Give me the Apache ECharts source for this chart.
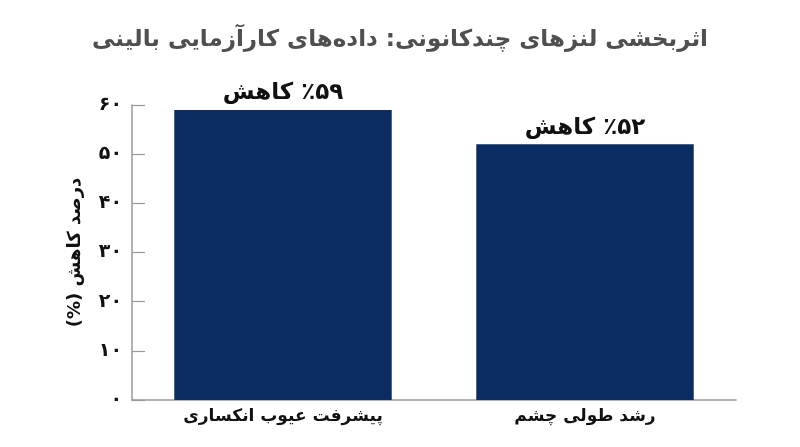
<!DOCTYPE html>
<html lang="fa">
<head>
    <meta charset="UTF-8">
    <script src="https://cdn.jsdelivr.net/npm/echarts@6/dist/echarts.min.js"></script>
    <title>اثربخشی لنزهای چندکانونی</title>
    <style>
        *{ margin: 0; padding: 0; }
        #chart{ width: 800px; height: 447px; direction: rtl; }
    </style>
</head>
<body>
    <div id="chart"></div>
<script>
    // داده‌ها
    var categories = ['پیشرفت عیوب انکساری', 'رشد طولی چشم'];
    var values = [59, 52];
    var barLabels = ['٪۵۹ کاهش', '٪۵۲ کاهش'];
    var yTickLabels = ['۰', '۱۰', '۲۰', '۳۰', '۴۰', '۵۰', '۶۰'];

    var font = 'DejaVu Sans';
    var chart = echarts.init(document.getElementById('chart'));

    var option = {
        backgroundColor: '#ffffff',
        animation: false,
        title: {
            text: 'اثربخشی لنزهای چندکانونی: داده‌های کارآزمایی بالینی',
            left: 'center',
            top: 24,
            textStyle: { fontFamily: font, fontSize: 23, fontWeight: 'bold', color: '#4f4f4f' }
        },
        grid: { left: 132, right: 64, top: 105, bottom: 47 },
        xAxis: {
            type: 'category',
            data: categories,
            axisLine: { lineStyle: { color: '#999999', width: 1.5 } },
            axisTick: { show: false },
            axisLabel: { margin: 8, fontFamily: font, fontSize: 17, fontWeight: 'bold', color: '#111111' }
        },
        yAxis: {
            type: 'value',
            min: 0,
            max: 60,
            interval: 10,
            name: 'درصد کاهش (%)',
            nameLocation: 'middle',
            nameGap: 48,
            nameTextStyle: { fontFamily: font, fontSize: 18, fontWeight: 'bold', color: '#111111' },
            axisLine: { show: true, lineStyle: { color: '#999999', width: 1.5 } },
            axisTick: { show: true, inside: true, length: 13, lineStyle: { color: '#999999', width: 1.2 } },
            splitLine: { show: false },
            axisLabel: {
                margin: 10,
                fontFamily: font, fontSize: 19, fontWeight: 'bold', color: '#111111',
                formatter: function (v) { return yTickLabels[v / 10]; }
            }
        },
        series: [{
            type: 'bar',
            data: values,
            barCategoryGap: '28%',
            itemStyle: { color: '#0a2c61' },
            label: {
                show: true,
                position: 'top',
                distance: 5,
                fontFamily: font, fontSize: 23, fontWeight: 'bold', color: '#111111',
                formatter: function (p) { return barLabels[p.dataIndex]; }
            }
        }]
    };
    chart.setOption(option);
</script>
</body>
</html>
